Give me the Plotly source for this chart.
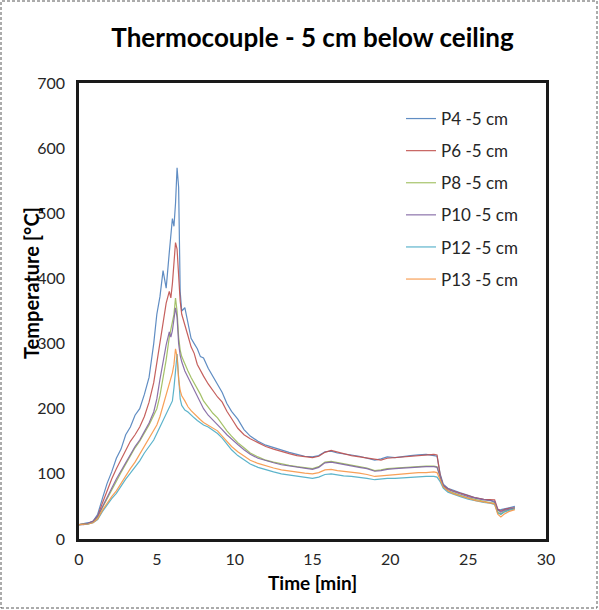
import plotly.graph_objects as go

# ---- data ----
time_min = [
    0, 0.3, 0.6, 0.9, 1.2, 1.5, 1.8, 2.1, 2.4, 2.7, 3.0, 3.3, 3.6, 3.9, 4.2, 4.5, 4.8,
    5.0, 5.2, 5.4, 5.6, 5.8, 5.9, 6.0, 6.1, 6.2, 6.3, 6.4, 6.5, 6.6, 6.8,
    7.0, 7.2, 7.4, 7.6, 7.8, 8.0, 8.3, 8.6, 8.9, 9.2, 9.5, 9.8, 10.2, 10.6, 11.0, 11.5, 12.0, 12.5, 13.0, 13.5, 14.0, 14.5,
    15.0, 15.4, 15.8, 16.2, 16.6, 17.0, 17.5, 18.0, 18.5, 19.0, 19.4, 19.8, 20.3, 20.8, 21.3, 21.8, 22.3, 22.8,
    23.0, 23.2, 23.4, 23.7, 24.0, 24.5, 25.0, 25.5, 26.0, 26.4, 26.7, 26.9, 27.1, 27.3, 27.6, 28.0,
]

p4 = [
    22, 23, 25, 27, 38, 62, 85, 103, 124, 138, 160, 172, 190, 200, 222, 248, 300,
    345, 372, 412, 385, 440, 465, 492, 480, 515, 570, 540, 380, 350, 355,
    330, 308, 300, 292, 280, 278, 262, 250, 238, 225, 208, 196, 184, 168, 158, 150, 144, 140, 136, 133, 130, 127,
    126, 128, 134, 135, 132, 131, 129, 127, 124, 121, 123, 126, 125, 127, 128, 129, 130, 128,
    127, 100, 84, 78, 75, 71, 67, 63, 61, 60, 56, 44, 45, 46, 47, 50,
]
p6 = [
    22, 23, 24, 27, 35, 55, 75, 92, 108, 122, 138, 150, 160, 172, 188, 210, 240,
    272, 300, 335, 362, 380, 370, 392, 425, 455, 445, 400, 365, 345, 330,
    312, 295, 285, 268, 258, 250, 238, 228, 218, 210, 196, 185, 170, 160, 154, 148, 142, 138, 134, 131, 128, 126,
    125, 127, 133, 136, 133, 131, 128, 126, 124, 122, 121, 124, 125, 126, 127, 128, 129, 130,
    129, 98, 82, 77, 74, 70, 66, 63, 61, 61, 60, 46, 43, 45, 47, 48,
]
p8 = [
    22, 22, 23, 26, 33, 48, 62, 75, 88, 102, 115, 128, 140, 150, 162, 175, 190,
    200, 220, 248, 275, 310, 322, 330, 345, 370, 350, 310, 290, 280, 268,
    258, 248, 240, 230, 222, 212, 202, 193, 186, 175, 166, 158, 148, 140, 132, 126, 121, 118, 115, 113, 111, 109,
    108, 111, 118, 119, 117, 115, 113, 111, 109, 105, 106, 108, 109, 110, 111, 111, 112, 112,
    111, 95, 80, 74, 71, 67, 63, 60, 58, 56, 55, 42, 38, 42, 45, 47,
]
p10 = [
    22, 22, 24, 27, 35, 50, 64, 78, 92, 105, 118, 130, 142, 152, 165, 178, 195,
    215, 245, 272, 298, 318, 310, 320, 335, 355, 340, 300, 282, 272, 258,
    248, 238, 228, 218, 208, 200, 190, 183, 176, 168, 160, 153, 145, 137, 130, 124, 120, 117, 114, 112, 110, 108,
    107, 110, 117, 118, 116, 114, 112, 110, 108, 104, 105, 107, 108, 109, 110, 110, 111, 111,
    110, 96, 82, 76, 73, 69, 65, 62, 60, 59, 58, 45, 41, 44, 46, 48,
]
p12 = [
    22, 22, 23, 25, 30, 42, 53, 62, 70, 82, 92, 101, 110, 120, 132, 143, 152,
    162, 172, 182, 192, 200, 205, 212, 232, 262, 284, 248, 215, 205, 198,
    195, 190, 186, 182, 178, 175, 172, 167, 162, 155, 146, 137, 128, 121, 115, 110, 106, 103, 100, 98, 96, 94,
    93, 95, 99, 100, 98, 97, 96, 95, 93, 91, 92, 93, 93, 94, 94, 95, 96, 96,
    95, 88, 78, 72, 69, 65, 61, 58, 56, 55, 53, 40, 38, 41, 44, 46,
]
p13 = [
    22, 22, 23, 25, 31, 44, 55, 65, 74, 86, 97, 108, 118, 130, 142, 155, 166,
    175, 188, 205, 220, 238, 245, 255, 268, 292, 280, 245, 228, 220, 212,
    203, 197, 192, 187, 183, 179, 175, 171, 166, 158, 150, 142, 134, 127, 121, 116, 112, 109, 106, 104, 102, 101,
    100, 102, 106, 107, 105, 104, 102, 101, 99, 96, 97, 98, 99, 100, 101, 102, 102, 103,
    102, 92, 80, 74, 70, 66, 62, 59, 57, 55, 54, 38, 34, 38, 42, 45,
]

series_names = ["P4 -5 cm", "P6 -5 cm", "P8 -5 cm", "P10 -5 cm", "P12 -5 cm", "P13 -5 cm"]
series_values = [p4, p6, p8, p10, p12, p13]
series_colors = ["#4F81BD", "#C0504D", "#9BBB59", "#8064A2", "#4BACC6", "#F79646"]

x_ticks = [0, 5, 10, 15, 20, 25, 30]
y_ticks = [0, 100, 200, 300, 400, 500, 600, 700]

FONT = "Lato"

fig = go.Figure()
for i, (name, vals, col) in enumerate(zip(series_names, series_values, series_colors)):
    fig.add_trace(go.Scatter(
        x=time_min, y=vals, mode="lines", name=name, opacity=0.9,
        line=dict(color=col, width=1.2), legendgroup=f"g{i}",
    ))

W, H = 599, 610
ml, mr, mt, mb = 79, 53, 83, 71
pw, ph = W - ml - mr, H - mt - mb

fig.update_layout(
    width=W, height=H,
    margin=dict(l=ml, r=mr, t=mt, b=mb, pad=0),
    paper_bgcolor="white", plot_bgcolor="white",
    font=dict(family=FONT, color="#262626", size=16),
    title=dict(text="<b>Thermocouple - 5 cm below ceiling</b>", x=(ml + pw / 2) / W, xanchor="center",
               y=1 - 38 / H, yanchor="middle", font=dict(size=26, color="#000000", family=FONT)),
    showlegend=True,
    legend=dict(x=(401 - ml) / pw, y=1 - (101 - mt) / ph, xanchor="left", yanchor="top",
                bgcolor="rgba(0,0,0,0)", borderwidth=0, tracegroupgap=7,
                font=dict(size=17, color="#262626", family=FONT)),
    xaxis=dict(range=[0, 30], tickvals=x_ticks, showgrid=False, zeroline=False,
               showline=True, linecolor="#1a1a1a", linewidth=2.5, mirror=True,
               ticks="", ticklen=0, ticklabelstandoff=4, tickfont=dict(size=16)),
    yaxis=dict(range=[0, 700], tickvals=y_ticks, showgrid=False, zeroline=False,
               showline=True, linecolor="#1a1a1a", linewidth=2.5, mirror=True,
               ticks="", ticklen=0, ticklabelstandoff=8, tickfont=dict(size=16)),
)

fig.add_annotation(text="<b>Time [min]</b>", xref="paper", yref="paper",
                   x=0.5, y=-(582 - (mt + ph)) / ph, xanchor="center", yanchor="middle",
                   showarrow=False, font=dict(size=19, color="#000000", family=FONT))
fig.add_annotation(text="<b>Temperature [°C]</b>", xref="paper", yref="paper",
                   x=(31 - ml) / pw, y=(mt + ph - 283) / ph, xanchor="center", yanchor="middle",
                   textangle=-90, showarrow=False, font=dict(size=20, color="#000000", family=FONT))

# dashed outer frame of the picture
fig.add_shape(type="rect", xref="paper", yref="paper",
              x0=(1 - ml) / pw, x1=(W - 2 - ml) / pw,
              y0=(mt + ph - (H - 2)) / ph, y1=(mt + ph - 1) / ph,
              line=dict(color="#595959", width=1, dash="3px,2px"), fillcolor="rgba(0,0,0,0)",
              layer="below")

fig.write_html("out.html")
